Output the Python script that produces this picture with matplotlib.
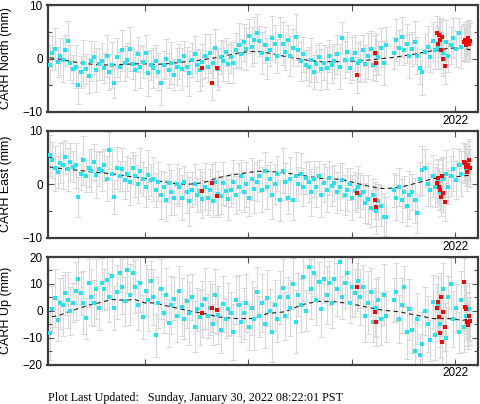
import numpy as np
import matplotlib
matplotlib.use("Agg")
import matplotlib.pyplot as plt
from matplotlib.ticker import MultipleLocator

# ---- sampling epochs (decimal year) ----
t = [2018.080, 2018.105, 2018.130, 2018.155, 2018.180, 2018.205, 2018.230, 2018.255, 2018.280, 2018.305,
     2018.330, 2018.355, 2018.380, 2018.405, 2018.430, 2018.455, 2018.480, 2018.505, 2018.530, 2018.555,
     2018.580, 2018.605, 2018.630, 2018.655, 2018.680, 2018.705, 2018.730, 2018.755, 2018.780, 2018.805,
     2018.830, 2018.855, 2018.880, 2018.905, 2018.930, 2018.955, 2018.980, 2019.005, 2019.030, 2019.055,
     2019.080, 2019.105, 2019.130, 2019.155, 2019.180, 2019.205, 2019.230, 2019.255, 2019.280, 2019.305,
     2019.330, 2019.355, 2019.380, 2019.405, 2019.430, 2019.455, 2019.480, 2019.505, 2019.530, 2019.555,
     2019.580, 2019.605, 2019.630, 2019.655, 2019.680, 2019.705, 2019.730, 2019.755, 2019.780, 2019.805,
     2019.830, 2019.855, 2019.880, 2019.905, 2019.930, 2019.955, 2019.980, 2020.005, 2020.030, 2020.055,
     2020.080, 2020.105, 2020.130, 2020.155, 2020.180, 2020.205, 2020.230, 2020.255, 2020.280, 2020.305,
     2020.330, 2020.355, 2020.380, 2020.405, 2020.430, 2020.455, 2020.480, 2020.505, 2020.530, 2020.555,
     2020.580, 2020.605, 2020.630, 2020.655, 2020.680, 2020.705, 2020.730, 2020.755, 2020.780, 2020.805,
     2020.830, 2020.855, 2020.880, 2020.905, 2020.930, 2020.955, 2020.980, 2021.005, 2021.030, 2021.055,
     2021.080, 2021.105, 2021.130, 2021.155, 2021.180, 2021.205, 2021.230, 2021.255, 2021.280, 2021.305,
     2021.330, 2021.405, 2021.430, 2021.455, 2021.480, 2021.505, 2021.530, 2021.555,
     2021.580, 2021.605, 2021.630, 2021.655, 2021.680, 2021.705, 2021.730, 2021.755, 2021.780, 2021.805,
     2021.830, 2021.855, 2021.880, 2021.905, 2021.930, 2021.955, 2021.980, 2022.005, 2022.030, 2022.055,
     2022.080, 2022.105, 2022.130]

north = [-1.2, 1.0, 1.8, -0.6, 0.4, -0.3, 1.5, 3.3, -0.8, -2.0,
         -1.5, -5.0, -2.5, -0.8, -1.9, -3.2, -0.5, 0.2, -2.2, -1.0,
         -0.5, -1.8, 0.5, -2.5, -1.2, -4.5, 0.2, -1.5, 1.5, -0.9,
         -0.3, 1.7, -1.0, -2.2, 0.8, -1.5, -0.6, 1.0, -2.8, -1.2,
         -1.8, -0.5, -2.5, -4.5, -1.2, 0.0, -2.2, -0.8, -3.0, -1.5,
         -0.5, -2.0, 0.5, -1.5, -2.8, -0.3, 0.8, -1.2, -2.2, -0.6,
         0.5, -1.5, 1.0, -0.8, 2.0, -2.0, 0.3, -0.5, 1.2, -1.0,
         0.2, -0.8, 1.5, 2.5, 0.8, 3.0, 1.8, 4.2, 2.2, 3.5,
         4.8, 3.2, 1.0, 2.5, 0.0, 1.5, 3.8, 2.8, 0.5, 4.2,
         2.8, 1.2, 3.5, 0.5, 2.0, 4.0, 1.5, -0.5, 0.8, -1.2,
         -1.5, -0.3, -2.5, -1.0, 0.2, -2.0, -0.8, -1.8, 0.5, -1.2,
         -0.5, 0.8, -1.5, 3.9, -0.2, 1.2, -1.8, 0.0, 1.0, -0.8,
         -0.5, 1.5, -1.0, 0.5, 1.8, -1.2, 0.8, 0.2, 2.0, -0.8,
         2.5, 1.0, 3.5, 2.0, 4.0, 1.5, 2.8, 0.5,
         1.8, 3.0, 0.5, -1.8, -2.5, 1.2, 2.2, 0.2, 3.2, 1.5,
         2.0, 4.5, 1.0, 3.0, 0.5, 2.5, 3.8, 1.8, 4.8, 2.2,
         3.0, 2.5, 3.5]

east = [5.4, 4.5, 3.0, 2.2, 4.0, 3.5, 5.0, 2.8, 4.2, 3.3,
        3.5, -2.4, 2.0, 4.5, 1.5, 3.0, 2.5, 4.2, 1.8, 2.8,
        2.5, 3.5, 1.0, 6.3, 2.0, -2.4, 3.0, 1.5, 2.8, 0.8,
        2.0, 0.5, 3.0, 1.5, 0.0, 2.5, 1.0, -0.5, 1.8, 0.8,
        1.0, -1.0, 0.5, -2.0, -0.5, -3.0, 0.2, -1.5, -2.5, 0.0,
        -0.5, -2.5, 0.5, -1.5, -3.2, -1.0, 0.0, -2.0, -1.2, -2.8,
        -0.5, -2.5, -1.0, -3.2, 0.5, -1.8, -2.2, 0.2, -1.2, -2.8,
        -1.0, 0.5, -2.0, -0.5, 1.5, -1.5, 0.0, -2.5, 1.0, -0.8,
        0.5, 1.5, -1.0, 2.5, -0.5, 1.0, -2.0, 0.0, 2.0, -3.0,
        2.5, 0.5, -2.5, 1.0, -3.0, 1.5, 0.0, 2.0, -0.5, 1.2,
        0.5, -1.5, 1.0, -0.5, 1.5, -2.0, 0.2, -1.0, 1.2, -0.3,
        0.3, -1.5, -0.5, 0.8, -2.0, -1.0, 0.0, -2.5, -1.2, -0.5,
        -2.0, -1.5, -3.5, -2.8, -4.5, -2.0, -5.0, -3.2, -4.0, -6.0,
        -6.0, -1.0, -2.5, -0.5, -3.0, -1.5, -4.0, -2.0,
        -1.5, -3.0, -5.4, 1.0, 2.6, 3.0, 0.0, -1.0, 1.5, -0.5,
        0.5, -1.5, 1.0, 2.0, -0.5, 1.5, 2.8, 0.8, 3.5, 2.0,
        4.0, 3.0, 4.5]

up = [-8.4, 0.5, 4.6, -3.5, 2.8, 2.0, 6.5, 4.0, 0.0, 3.0,
      7.5, 12.0, 6.5, 3.0, -2.8, 10.3, 5.0, 2.8, 8.0, 1.0,
      10.3, 8.0, 11.5, 5.0, 13.0, 1.0, 7.0, 14.0, 9.0, 3.5,
      15.1, 6.0, 14.0, 9.0, 2.0, 10.5, -2.4, 7.5, 4.0, 11.0,
      5.0, -9.2, 3.0, 8.0, -1.0, 6.0, -4.5, 2.0, 4.5, -2.0,
      7.5, 1.5, -3.0, 3.5, -1.0, 5.0, -6.0, 0.5, -2.5, 2.0,
      4.5, -2.0, 1.0, -5.0, 6.0, -1.5, -7.0, 2.5, -3.0, 0.5,
      -1.0, -7.9, 4.0, 2.0, -4.0, -1.0, 3.0, -6.0, 1.0, -3.0,
      7.0, -2.0, 3.0, -5.0, 4.7, 0.0, -8.0, 2.0, -3.0, 5.0,
      8.5, -2.0, 5.0, 1.0, 10.0, -4.0, 6.0, 2.0, 12.5, 0.0,
      16.4, 8.0, 14.0, 4.0, 10.8, 0.5, 12.0, 6.0, 10.3, 3.0,
      12.0, 8.0, 18.0, 5.0, 10.5, 14.0, 3.0, 9.0, 6.5, 11.0,
      5.0, 9.0, -2.0, 3.0, 7.0, -4.0, 1.0, 4.0, -3.0, 6.0,
      -2.0, 4.0, 7.0, -3.0, 2.0, 9.0, -8.0, 0.5,
      -7.0, -14.8, -3.0, -16.6, -12.3, 0.0, -5.0, -11.0, 3.3, -9.0,
      2.0, -5.0, 8.0, -10.0, 5.0, 10.0, -3.0, 1.0, -8.0, 4.0,
      -6.0, -2.0, 0.5]

# relative uncertainty per epoch (multiplies the component's typical sigma)
sig_scale = [1.10, 0.95, 1.20, 0.85, 1.05, 1.25, 0.90, 1.15, 1.00, 0.80,
             1.20, 1.05, 0.90, 1.30, 0.85, 1.00, 1.15, 0.95, 1.25, 0.90,
             1.05, 0.85, 1.20, 1.00, 1.30, 0.90, 1.10, 0.80, 1.15, 1.00,
             0.95, 1.25, 0.85, 1.10, 1.00, 1.20, 0.90, 1.05, 1.30, 0.85,
             1.15, 0.90, 1.05, 1.25, 0.80, 1.10, 1.00, 1.20, 0.90, 1.05,
             1.00, 1.20, 0.85, 1.10, 1.30, 0.95, 1.05, 0.90, 1.15, 1.00,
             1.25, 0.90, 1.10, 0.85, 1.05, 1.20, 0.95, 1.15, 0.80, 1.10,
             0.90, 1.15, 1.00, 1.25, 0.85, 1.05, 1.20, 0.95, 1.10, 1.30,
             1.05, 0.85, 1.20, 1.00, 1.15, 0.90, 1.25, 1.05, 0.95, 1.10,
             1.20, 1.00, 0.85, 1.15, 1.05, 1.30, 0.90, 1.10, 1.00, 0.85,
             1.10, 1.25, 0.95, 1.05, 0.80, 1.15, 1.00, 1.20, 0.90, 1.05,
             0.95, 1.10, 1.25, 0.90, 1.05, 1.15, 0.85, 1.20, 1.00, 1.10,
             1.15, 0.90, 1.05, 1.30, 1.00, 0.85, 1.20, 0.95, 1.10, 1.25,
             1.05, 0.90, 1.20, 1.00, 1.15, 0.85, 1.10, 1.25,
             0.95, 1.20, 1.05, 0.90, 1.30, 1.00, 1.15, 0.85, 1.10, 1.05,
             1.20, 0.95, 1.10, 1.25, 0.90, 1.05, 1.15, 1.00, 0.85, 1.20,
             1.05, 0.95, 1.10]

sigma_north = 3.3
sigma_east = 3.5
sigma_up = 9.0

# ---- flagged (red) epochs ----
red_t = [2019.55, 2019.65, 2019.70, 2021.05, 2021.22, 2021.23,
         2021.82, 2021.83, 2021.84, 2021.85, 2021.86, 2021.87, 2021.88, 2021.90,
         2022.08, 2022.09, 2022.10, 2022.11, 2022.12, 2022.13, 2022.14]
red_north = [-1.8, -4.5, -1.7, -3.1, 1.0, -0.9, 4.7, 2.8, 4.3, 3.5, 1.6, 4.0, 0.0, -1.4,
             3.0, 3.5, 2.6, 3.2, 3.8, 2.8, 3.3]
red_east = [-1.3, 0.3, -2.2, -1.6, -3.0, -4.2, 0.2, 1.1, -0.5, -1.1, -2.4, 1.6, -1.6, -3.3,
            4.2, 3.9, 3.2, 2.3, 3.6, 4.5, 3.0]
red_up = [-0.8, 1.0, 0.2, 8.9, -0.5, -4.2, 1.0, 3.3, -2.3, -8.4, 5.2, -11.7, -0.3, -6.0,
          10.8, 1.4, 0.5, -4.2, -5.4, -2.1, -3.8]

# ---- model curves ----
mt_north = [2018.08, 2018.2, 2018.3, 2018.4, 2018.5, 2018.6, 2018.7, 2018.8, 2018.9, 2019.0,
            2019.1, 2019.2, 2019.3, 2019.4, 2019.5, 2019.6, 2019.7, 2019.8, 2019.9, 2020.0,
            2020.1, 2020.2, 2020.3, 2020.4, 2020.5, 2020.6, 2020.7, 2020.8, 2020.9, 2021.0,
            2021.1, 2021.2, 2021.3, 2021.4, 2021.5, 2021.6, 2021.7, 2021.8, 2021.9, 2022.0,
            2022.1, 2022.15]
model_north = [0.15, -0.2, -0.6, -0.9, -1.1, -1.2, -1.2, -1.1, -1.0, -1.0,
               -1.1, -1.0, -0.8, -0.6, -0.4, -0.1, 0.2, 0.6, 1.0, 1.3,
               1.3, 1.0, 0.6, 0.2, -0.1, -0.4, -0.6, -0.6, -0.6, -0.5,
               -0.4, -0.2, 0.0, 0.2, 0.5, 0.8, 1.2, 1.5, 1.8, 2.0,
               1.8, 1.6]
model_east = [3.2, 2.9, 2.7, 2.5, 2.3, 2.1, 1.9, 1.6, 1.3, 1.1,
              0.7, 0.4, 0.1, 0.0, 0.1, 0.5, 1.2, 1.6, 1.9, 2.2,
              2.4, 2.4, 2.2, 2.0, 1.7, 1.4, 1.1, 1.0, 0.9, 0.4,
              -0.1, -0.5, -0.8, -0.7, -0.4, 0.1, 0.6, 1.1, 1.2, 1.4,
              1.6, 1.7]
mt_up = [2018.10, 2018.16, 2018.26, 2018.36, 2018.45, 2018.55, 2018.68, 2018.81, 2018.90, 2019.00,
         2019.10, 2019.19, 2019.32, 2019.42, 2019.58, 2019.71, 2019.87, 2020.03, 2020.19, 2020.35,
         2020.52, 2020.67, 2020.82, 2020.98, 2021.14, 2021.30, 2021.46, 2021.63, 2021.78, 2021.95,
         2022.07, 2022.14]
model_up = [-2.2, -1.9, -0.4, 0.9, 2.0, 2.9, 4.2, 3.9, 4.2, 2.9,
            2.9, 2.0, 0.9, 0.0, -1.1, -2.3, -2.9, -2.9, -1.0, -0.4,
            2.3, 3.5, 3.4, 2.7, 1.4, 0.2, -0.4, -1.7, -2.9, -2.9,
            -3.6, -2.9]

year_ticks = [2019, 2020, 2021, 2022]
year_labels = ["", "", "", "2022"]

panels = [
    ("CARH North (mm)", north, sigma_north, red_north, mt_north, model_north, (-10, 10), 10, 5),
    ("CARH East (mm)", east, sigma_east, red_east, mt_north, model_east, (-10, 10), 10, 5),
    ("CARH Up (mm)", up, sigma_up, red_up, mt_up, model_up, (-20, 20), 10, 5),
]

plt.rcParams['font.family'] = ['Liberation Sans', 'DejaVu Sans']

W, H = 481, 404
fig = plt.figure(figsize=(W / 100, H / 100), dpi=100)
boxes = [(5, 112), (130.5, 238), (257, 364.5)]
x0, x1 = 47.5, 477.5

cyan = '#1ee6f0'
sc = np.array(sig_scale)
red_sig = 1.0

for (label, vals, sig, rvals, mt, mv, ylim, major, minor), (ytop, ybot) in zip(panels, boxes):
    ax = fig.add_axes([x0 / W, 1 - ybot / H, (x1 - x0) / W, (ybot - ytop) / H])
    ax.errorbar(t, vals, yerr=sc * sig, fmt='none', ecolor='#d8d8d8', elinewidth=0.8,
                capsize=2.0, capthick=0.7, zorder=1)
    ax.errorbar(red_t, rvals, yerr=red_sig * sig, fmt='none', ecolor='#d8d8d8', elinewidth=0.8,
                capsize=2.0, capthick=0.7, zorder=1)
    ax.plot(mt, mv, color='#222222', lw=0.8, ls=(0, (4, 3)), zorder=3)
    ax.plot(t, vals, 's', color=cyan, ms=2.4, mew=0, zorder=4)
    ax.plot(red_t, rvals, 's', color='#ff0000', ms=2.4, mew=0, zorder=5)

    ax.set_xlim(2018.058, 2022.213)
    ax.set_ylim(*ylim)
    ax.set_xticks(year_ticks)
    ax.set_xticklabels(year_labels)
    ax.yaxis.set_major_locator(MultipleLocator(major))
    ax.yaxis.set_minor_locator(MultipleLocator(minor))
    ax.tick_params(axis='both', which='both', direction='in', top=True, right=True,
                   colors='#555555', labelcolor='black', labelsize=8.5, width=0.8)
    ax.tick_params(axis='both', which='major', length=4)
    ax.tick_params(axis='y', which='minor', length=3)
    ax.tick_params(axis='x', which='major', pad=2)
    for s in ax.spines.values():
        s.set_linewidth(1.6)
        s.set_color('#3c3c3c')
    ax.set_ylabel(label, fontsize=9)
    ax.yaxis.set_label_coords(-0.083, 0.5)

fig.text(48 / W, 1 - 398 / H, "Plot Last Updated:   Sunday, January 30, 2022 08:22:01 PST",
         family=['Liberation Serif', 'DejaVu Serif'], fontsize=8.7, va='center', ha='left')

fig.savefig('out.png', dpi=100)
